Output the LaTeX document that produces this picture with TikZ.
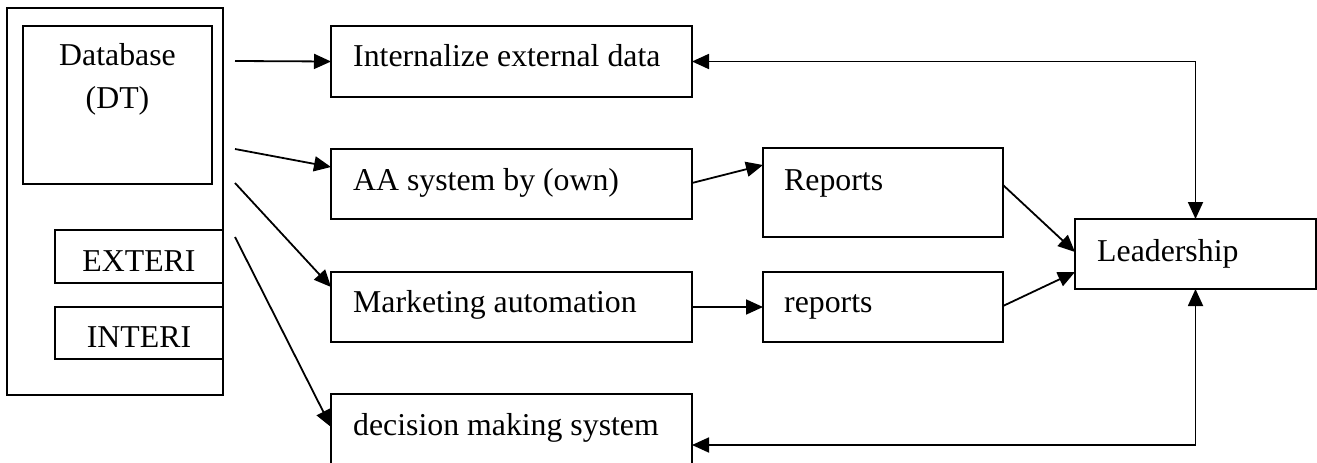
\documentclass[tikz,border=0pt]{standalone}
\usepackage{fontspec}
\setmainfont{Liberation Serif}
\usetikzlibrary{arrows.meta,calc}
\begin{document}
\begin{tikzpicture}[x=1pt,y=-1pt,
  box/.style={draw,line width=2pt,rectangle,inner sep=0pt,outer sep=0pt,anchor=north west},
  txt/.style={anchor=base west,inner sep=0pt,font=\fontsize{31.8}{38}\selectfont},
  ctxt/.style={anchor=base,inner sep=0pt,font=\fontsize{31.8}{38}\selectfont},
  arr/.style={line width=1.8pt,-{Triangle[length=17pt,width=15pt]}},
  barr/.style={line width=1.8pt,{Triangle[length=17pt,width=15pt]}-{Triangle[length=17pt,width=15pt]}}]
\useasboundingbox (0,0) rectangle (1317,463);
\clip (0,0) rectangle (1317,463);

% data source column
\node[box,minimum width=216pt,minimum height=387pt] (src) at (7,8) {};
\node[box,minimum width=189pt,minimum height=158pt] (db) at (23,26) {};
\node[box,minimum width=168pt,minimum height=53pt] (ext) at (55,230) {};
\node[box,minimum width=168pt,minimum height=52pt] (intr) at (55,307) {};
\node[ctxt] (dbt1) at (117.5,65) {Database};
\node[ctxt] (dbt2) at (117.5,108) {(DT)};
\node[ctxt] (extt) at (139,271) {EXTERI};
\node[ctxt] (intrt) at (139,347) {INTERI};

% processing systems
\node[box,minimum width=361pt,minimum height=71pt] (int) at (331,26) {};
\node[box,minimum width=361pt,minimum height=70pt] (aa) at (331,149) {};
\node[box,minimum width=361pt,minimum height=70pt] (mkt) at (331,272) {};
\node[box,minimum width=361pt,minimum height=80pt] (dec) at (331,394) {};
\node[txt] (intt) at ($(int.north west)+(22,40)$) {Internalize external data};
\node[txt] (aat) at ($(aa.north west)+(22,41)$) {AA system by (own)};
\node[txt] (mktt) at ($(mkt.north west)+(22,40)$) {Marketing automation};
\node[txt] (dect) at ($(dec.north west)+(22,41)$) {decision making system};

% reports and leadership
\node[box,minimum width=240pt,minimum height=89pt] (rep1) at (763,148) {};
\node[box,minimum width=240pt,minimum height=70pt] (rep2) at (763,272) {};
\node[box,minimum width=241pt,minimum height=70pt] (lead) at (1075,219) {};
\node[txt] (rep1t) at ($(rep1.north west)+(21,42)$) {Reports};
\node[txt] (rep2t) at ($(rep2.north west)+(21,40)$) {reports};
\node[txt] (leadt) at ($(lead.north west)+(22,42)$) {Leadership};

% loose ends of the feeds leaving the data column
\coordinate (s1) at (235,61);
\coordinate (s2) at (235,149);
\coordinate (s3) at (235,183);
\coordinate (s4) at (235,237);

\draw[arr] (s1) -- (int.west);
\draw[arr] (s2) -- ($(aa.north west)+(0,18)$);
\draw[arr] (s3) -- ($(mkt.north west)+(0,15)$);
\draw[arr] (s4) -- ($(dec.north west)+(0,33)$);
\draw[arr] ($(aa.north east)+(0,34)$) -- ($(rep1.north west)+(0,17)$);
\draw[arr] (mkt.east) -- (rep2.west);
\draw[arr] ($(rep1.north east)+(0,37)$) -- ($(lead.north west)+(0,33)$);
\draw[arr] ($(rep2.north east)+(0,34)$) -- ($(lead.north west)+(0,53)$);

% two-way links with leadership
\draw[barr] (int.east) -| (lead.north);
\draw[barr] ($(dec.north east)+(0,51)$) -| (lead.south);
\end{tikzpicture}
\end{document}
